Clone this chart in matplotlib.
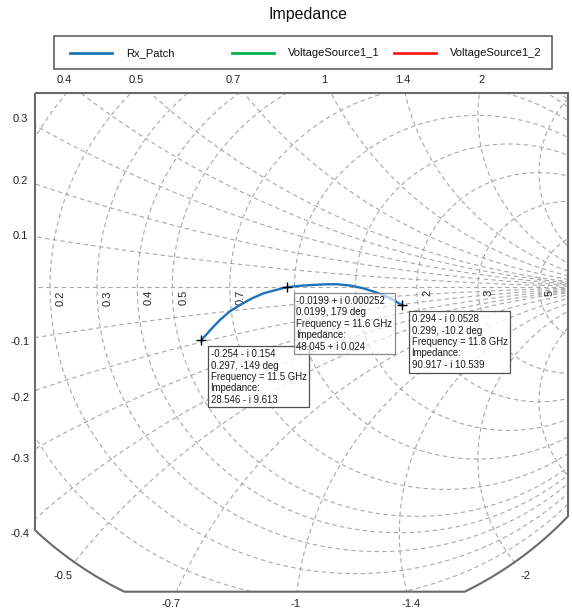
import numpy as np
import matplotlib
matplotlib.use("Agg")
import matplotlib.pyplot as plt
from matplotlib.patches import Circle, PathPatch, Rectangle
from matplotlib.path import Path
from matplotlib.lines import Line2D

# ---- data -------------------------------------------------------------
# Rx_Patch reflection coefficient trace, 11.5 - 11.8 GHz
freq_ghz = [11.5, 11.5125, 11.525, 11.5375, 11.55, 11.5625, 11.575, 11.5875,
            11.6, 11.62, 11.64, 11.66, 11.68, 11.70, 11.72, 11.74, 11.76,
            11.78, 11.8]
gamma_re = [-0.254, -0.229, -0.203, -0.176, -0.149, -0.117, -0.085, -0.053,
            -0.0199, 0.015, 0.051, 0.083, 0.115, 0.151, 0.187, 0.220, 0.251,
            0.273, 0.294]
gamma_im = [-0.154, -0.124, -0.095, -0.070, -0.052, -0.033, -0.018, -0.0087,
            0.000252, 0.004, 0.0067, 0.0084, 0.0087, 0.005, -0.003, -0.014,
            -0.027, -0.039, -0.0528]

# marker readouts
marker_freq = [11.5, 11.6, 11.8]
marker_re = [-0.254, -0.0199, 0.294]
marker_im = [-0.154, 0.000252, -0.0528]
marker_mag = ["0.297", "0.0199", "0.299"]
marker_deg = ["-149", "179", "-10.2"]
marker_re_txt = ["-0.254", "-0.0199", "0.294"]
marker_im_txt = ["0.154", "0.000252", "0.0528"]
marker_z = ["28.546 - i 9.613", "48.045 + i 0.024", "90.917 - i 10.539"]

series_names = ["Rx_Patch", "VoltageSource1_1", "VoltageSource1_2"]
series_colors = ["#1f72b8", "#00b050", "#ff1a1a"]

# Smith chart grid values
r_grid = [0.1, 0.2, 0.3, 0.4, 0.5, 0.7, 1, 1.4, 2, 3, 5, 10]
x_grid = [0.1, 0.2, 0.3, 0.4, 0.5, 0.7, 1, 1.4, 2, 3, 5, 10]
r_labels = [0.2, 0.3, 0.4, 0.5, 0.7, 2, 3, 5]
x_labels = [0.1, 0.2, 0.3, 0.4, 0.5, 0.7, 1, 1.4, 2,
            -0.1, -0.2, -0.3, -0.4, -0.5, -0.7, -1, -1.4, -2]

# visible window of the zoomed chart (reflection-coefficient plane)
x_lim = (-0.7075, 0.7457)
y_lim = (-0.8858, 0.565)

# ---- figure -----------------------------------------------------------
W, H = 572, 614
fig = plt.figure(figsize=(W / 100, H / 100), dpi=100)
ax = fig.add_axes([35 / W, (H - 591.7) / H, 533 / W, 498.7 / H])
ax.set_xlim(*x_lim)
ax.set_ylim(*y_lim)
ax.set_aspect("auto")
ax.axis("off")

px_x = (x_lim[1] - x_lim[0]) / 533.0    # data units per pixel
px_y = (y_lim[1] - y_lim[0]) / 498.7

grid_kw = dict(color="#a8a8a8", lw=0.8, ls=(0, (4, 3)), zorder=1)
label_kw = dict(fontsize=8, color="#222222", family="Liberation Sans")

unit = Circle((0, 0), 1.0, transform=ax.transData, fill=False, lw=0)
ax.add_patch(unit)

t = np.linspace(0, 2 * np.pi, 1500)
# constant-resistance circles
for r in r_grid:
    c, rad = r / (1 + r), 1 / (1 + r)
    ln, = ax.plot(c + rad * np.cos(t), rad * np.sin(t), **grid_kw)
    ln.set_clip_path(unit)
# constant-reactance circles
for xv in x_grid:
    for s in (1, -1):
        rad = 1 / xv
        ln, = ax.plot(1 + rad * np.cos(t), s * rad + rad * np.sin(t), **grid_kw)
        ln.set_clip_path(unit)
ln, = ax.plot([-1, 1], [0, 0], **grid_kw)
ln.set_clip_path(unit)

# chart border: window clipped by the unit circle
x0, x1 = x_lim
yb, yt = y_lim
yl = -np.sqrt(1 - x0 ** 2)
yr = -np.sqrt(1 - x1 ** 2)
ab = np.sqrt(1 - yb ** 2)
a1 = np.linspace(np.arctan2(yr, x1), np.arctan2(yb, ab), 60)
a2 = np.linspace(np.arctan2(yb, -ab), np.arctan2(yl, x0), 60)
verts = ([(x0, yt), (x1, yt), (x1, yr)] + list(zip(np.cos(a1), np.sin(a1)))
         + list(zip(np.cos(a2), np.sin(a2))) + [(x0, yt)])
ax.add_patch(PathPatch(Path(verts), fill=False, ec="#6a6a6a", lw=1.5,
                       zorder=5, clip_on=False))

# resistance labels along the real axis
for r in r_labels:
    g = (r - 1) / (r + 1)
    ax.text(g + 11 * px_x, -3 * px_y, f"{r:g}", rotation=90, ha="center",
            va="top", zorder=3, **label_kw)

# reactance labels where each circle leaves the window
left_a = x0 - 15 * px_x
top_b = yt + 13 * px_y
bot_b = yb - 12.5 * px_y
for xv in x_labels:
    rad = 1 / abs(xv)
    cy = 1 / xv
    s = np.sign(xv)
    d = rad ** 2 - (x0 - 1) ** 2
    b_edge = cy - s * np.sqrt(d) if d >= 0 else None
    edge_lim = yt if xv > 0 else yl
    if b_edge is not None and ((xv > 0 and b_edge <= edge_lim) or (xv < 0 and b_edge >= edge_lim)):
        b = cy - s * np.sqrt(rad ** 2 - (left_a - 1) ** 2) - 2 * px_y
        pos = (left_a, b)
    elif xv > 0:
        a = 1 - np.sqrt(rad ** 2 - (top_b - cy) ** 2)
        pos = (a, top_b)
    else:
        u = (complex(0, xv) - 1) / (complex(0, xv) + 1)
        if u.imag >= yb and x0 <= u.real <= x1:
            pos = (1.05 * u.real, 1.05 * u.imag)
        else:
            a = 1 - np.sqrt(rad ** 2 - (bot_b - cy) ** 2)
            pos = (a, bot_b)
    ax.text(pos[0], pos[1], f"{xv:g}", ha="center", va="center",
            clip_on=False, **label_kw)

# ---- trace and markers ------------------------------------------------
ax.plot(gamma_re, gamma_im, color=series_colors[0], lw=1.7, zorder=6,
        solid_capstyle="round", solid_joinstyle="round")
ax.plot(marker_re, marker_im, ls="none", marker="+", ms=7, mew=1.0,
        color="black", zorder=7)

box_z = [11, 12, 13]
box_ec = ["#505050", "#8a8a8a", "#505050"]
box_alpha = [0.85, 0.65, 0.85]
for i in range(3):
    sign = "-" if marker_im[i] < 0 else "+"
    txt = (f"{marker_re_txt[i]} {sign} i {marker_im_txt[i]}\n"
           f"{marker_mag[i]}, {marker_deg[i]} deg\n"
           f"Frequency = {marker_freq[i]:g} GHz\n"
           f"Impedance:\n{marker_z[i]}")
    ax.annotate(txt, xy=(marker_re[i], marker_im[i]), xytext=(9.2, -9.0),
                textcoords="offset pixels", ha="left", va="top",
                fontsize=6.9, linespacing=1.17, color="#1a1a1a",
                family="Liberation Sans", zorder=box_z[i],
                bbox=dict(boxstyle="square,pad=0.3",
                          fc=(1, 1, 1, box_alpha[i]),
                          ec=box_ec[i], lw=0.9))

# ---- title and legend -------------------------------------------------
ov = fig.add_axes([0, 0, 1, 1], zorder=20)
ov.set_xlim(0, W)
ov.set_ylim(H, 0)
ov.axis("off")
ov.patch.set_alpha(0)
ov.text(W / 2 + 22, 15, "Impedance", ha="center", va="center", fontsize=11.5,
        family="Liberation Sans", color="#111111")
ov.add_patch(Rectangle((54, 36), 498, 33, fill=False, ec="#555555", lw=1.1))
for k, (name, col) in enumerate(zip(series_names, series_colors)):
    lx = 70 + 162 * k
    ov.add_line(Line2D([lx, lx + 42], [52.5, 52.5], color=col, lw=2))
    ov.text(lx + 56, 53, name, ha="left", va="center", fontsize=8,
            family="Liberation Sans", color="#111111")

fig.savefig("out.png", dpi=100)
